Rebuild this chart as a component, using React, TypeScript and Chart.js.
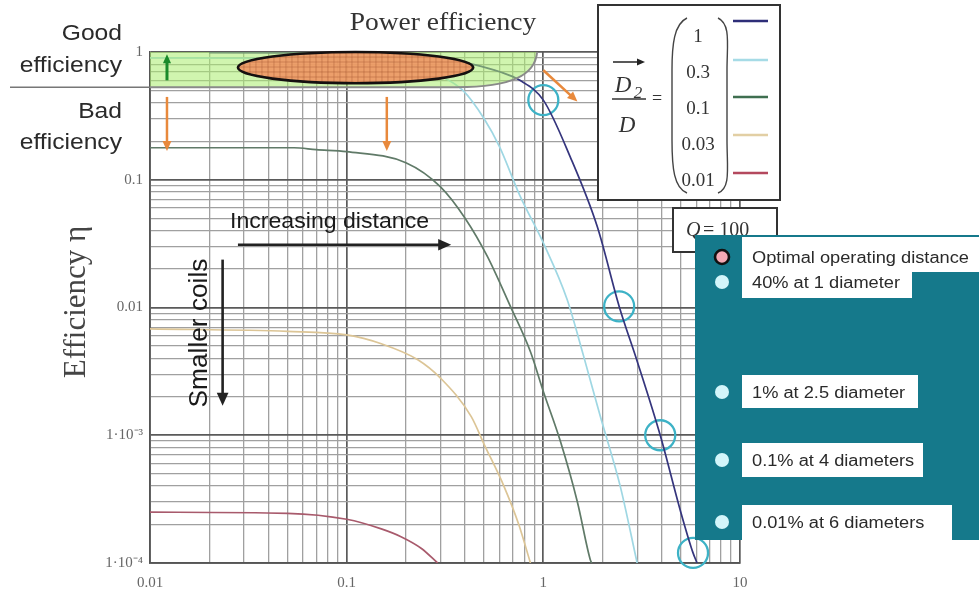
import React, { useEffect, useRef } from 'react';
import { Chart, registerables } from 'chart.js';

Chart.register(...registerables);

// ---------- data ----------
const seriesNames = ['1', '0.3', '0.1', '0.03', '0.01'];
const seriesColors = ['#35357d', '#9fd7e3', '#607a68', '#dcc596', '#a85a6c'];
const legendColors = ['#2e2e78', '#a6dbe6', '#3f6f50', '#e2cfa4', '#b4495e'];

const navyX = [0.02, 0.05, 0.1, 0.2, 0.3, 0.44, 0.6, 0.76, 1, 1.37, 1.88, 2.43, 3.0, 3.93, 5.0, 5.77, 6.05];
const navyY = [0.99, 0.985, 0.98, 0.95, 0.9, 0.8, 0.7, 0.6, 0.42, 0.151, 0.043, 0.0102, 0.0038, 0.001, 0.00025, 0.00012, 0.0001];

const cyanX = [0.01, 0.1, 0.2, 0.3, 0.39, 0.5, 0.6, 0.76, 1, 1.32, 1.6, 1.95, 2.46, 3.0];
const cyanY = [0.9, 0.88, 0.8, 0.65, 0.5, 0.3, 0.18, 0.075, 0.032, 0.0116, 0.0042, 0.0014, 0.0004, 0.0001];

const greenX = [0.01, 0.054, 0.07, 0.1, 0.2, 0.3, 0.4, 0.52, 0.68, 0.86, 1.0, 1.22, 1.49, 1.73, 1.76];
const greenY = [0.178, 0.178, 0.172, 0.166, 0.136, 0.088, 0.05, 0.025, 0.0102, 0.0045, 0.0022, 0.0009, 0.0003, 0.000107, 0.0001];

const tanX = [0.01, 0.05, 0.1, 0.15, 0.23, 0.3, 0.43, 0.5, 0.63, 0.75, 0.86];
const tanY = [0.0068, 0.0065, 0.0061, 0.0052, 0.0039, 0.0028, 0.0014, 0.00085, 0.0004, 0.0002, 0.0001];

const mauveX = [0.01, 0.05, 0.1, 0.15, 0.19, 0.24, 0.29];
const mauveY = [0.00025, 0.000245, 0.00022, 0.000185, 0.00016, 0.00013, 0.0001];

const seriesX = [navyX, cyanX, greenX, tanX, mauveX];
const seriesY = [navyY, cyanY, greenY, tanY, mauveY];

const circleX = [1, 2.43, 3.93, 5.77];
const circleY = [0.42, 0.0102, 0.001, 0.00012];

const xTickValues = [0.01, 0.1, 1, 10];
const xTickLabels = ['0.01', '0.1', '1', '10'];
const yTickValues = [1, 0.1, 0.01, 0.001, 0.0001];
const yTickLabels = ['1', '0.1', '0.01', '1·10⁻³', '1·10⁻⁴'];

const noteLabels = [
  'Optimal operating distance',
  '40% at 1 diameter',
  '1% at 2.5 diameter',
  '0.1% at 4 diameters',
  '0.01% at 6 diameters',
];

// regions / arrows in data space [x, y]
const bandRegion = [0.01, 0.93, 0.53, 1];
const ellipseRegion = [0.028, 0.44, 0.57, 1];
const orangeArrows = [
  [0.0122, 0.445, 0.0122, 0.168],
  [0.16, 0.445, 0.16, 0.168],
  [1.0, 0.72, 1.49, 0.41],
];
const greenArrow = [0.0122, 0.6, 0.0122, 0.96];
const distanceArrow = [0.028, 0.031, 0.34, 0.031];
const coilsArrow = [0.0234, 0.0237, 0.0234, 0.0017];

// ---------- helpers ----------
function logTicks(minExp: number, maxExp: number) {
  const out: any[] = [];
  for (let e = minExp; e < maxExp; e++) {
    for (let m = 1; m < 10; m++) {
      out.push({ value: +(m * Math.pow(10, e)).toPrecision(4), major: m === 1 });
    }
  }
  out.push({ value: Math.pow(10, maxExp), major: true });
  return out;
}

function labelFor(v: number, vals: number[], labels: string[]) {
  for (let i = 0; i < vals.length; i++) {
    if (Math.abs(Math.log10(v) - Math.log10(vals[i])) < 1e-6) return labels[i];
  }
  return '';
}

function txt(ctx: CanvasRenderingContext2D, s: string, x: number, y: number, font: string, color: string, align: CanvasTextAlign = 'left', sx = 1, rot = 0) {
  ctx.save();
  ctx.translate(x, y);
  if (rot) ctx.rotate(rot);
  ctx.scale(sx, 1);
  ctx.font = font;
  ctx.fillStyle = color;
  ctx.textAlign = align;
  ctx.textBaseline = 'alphabetic';
  ctx.fillText(s, 0, 0);
  ctx.restore();
}

function arrow(ctx: CanvasRenderingContext2D, x1: number, y1: number, x2: number, y2: number, color: string, w: number, head: number) {
  const a = Math.atan2(y2 - y1, x2 - x1);
  const c = Math.cos(a), s = Math.sin(a);
  ctx.save();
  ctx.strokeStyle = color;
  ctx.fillStyle = color;
  ctx.lineWidth = w;
  ctx.beginPath();
  ctx.moveTo(x1, y1);
  ctx.lineTo(x2 - c * head * 0.8, y2 - s * head * 0.8);
  ctx.stroke();
  ctx.beginPath();
  ctx.moveTo(x2, y2);
  ctx.lineTo(x2 - head * c + head * 0.45 * s, y2 - head * s - head * 0.45 * c);
  ctx.lineTo(x2 - head * c - head * 0.45 * s, y2 - head * s + head * 0.45 * c);
  ctx.closePath();
  ctx.fill();
  ctx.restore();
}

const decor = {
  id: 'decor',
  afterDraw(chart: any) {
    const ctx: CanvasRenderingContext2D = chart.ctx;
    const xs = chart.scales.x, ys = chart.scales.y;
    const px = (v: number) => xs.getPixelForValue(v);
    const py = (v: number) => ys.getPixelForValue(v);
    const sans = 'Liberation Sans, Arial, sans-serif';
    const serif = 'Liberation Serif, Times New Roman, serif';

    // green "good efficiency" band
    const L = px(bandRegion[0]), R = px(bandRegion[1]), B = py(bandRegion[2]), T = py(bandRegion[3]);
    ctx.save();
    ctx.beginPath();
    ctx.moveTo(L, T);
    ctx.lineTo(R, T);
    ctx.bezierCurveTo(R - 2, T + (B - T) * 0.65, R - 25, B, R - 80, B);
    ctx.lineTo(L, B);
    ctx.closePath();
    ctx.fillStyle = 'rgba(170,236,110,0.55)';
    ctx.fill();
    ctx.beginPath();
    ctx.moveTo(R, T);
    ctx.bezierCurveTo(R - 2, T + (B - T) * 0.65, R - 25, B, R - 80, B);
    ctx.lineTo(L, B);
    ctx.strokeStyle = '#8a8a8a';
    ctx.lineWidth = 2;
    ctx.stroke();
    ctx.restore();

    // separator line in the left margin
    ctx.save();
    ctx.strokeStyle = '#777';
    ctx.lineWidth = 1.6;
    ctx.beginPath();
    ctx.moveTo(10, B);
    ctx.lineTo(L, B);
    ctx.stroke();
    ctx.restore();

    // ellipse (optimal region)
    const eL = px(ellipseRegion[0]), eR = px(ellipseRegion[1]);
    const eB = py(ellipseRegion[2]), eT = py(ellipseRegion[3]);
    const cx = (eL + eR) / 2, cy = (eT + eB) / 2, rx = (eR - eL) / 2, ry = (eB - eT) / 2;
    ctx.save();
    ctx.beginPath();
    ctx.ellipse(cx, cy, rx, ry, 0, 0, Math.PI * 2);
    ctx.fillStyle = 'rgba(240,150,100,0.9)';
    ctx.fill();
    ctx.clip();
    ctx.strokeStyle = 'rgba(160,80,45,0.4)';
    ctx.lineWidth = 1;
    for (let x = eL; x < eR; x += 6) { ctx.beginPath(); ctx.moveTo(x, eT); ctx.lineTo(x, eB); ctx.stroke(); }
    for (let y = eT; y < eB; y += 5) { ctx.beginPath(); ctx.moveTo(eL, y); ctx.lineTo(eR, y); ctx.stroke(); }
    ctx.restore();
    ctx.save();
    ctx.beginPath();
    ctx.ellipse(cx, cy, rx, ry, 0, 0, Math.PI * 2);
    ctx.strokeStyle = '#151010';
    ctx.lineWidth = 2.6;
    ctx.stroke();
    ctx.restore();

    // arrows inside plot
    arrow(ctx, px(greenArrow[0]), py(greenArrow[1]), px(greenArrow[2]), py(greenArrow[3]), '#1a8a2a', 3, 9);
    orangeArrows.forEach((a) => arrow(ctx, px(a[0]), py(a[1]), px(a[2]), py(a[3]), '#e8893c', 2.5, 10));
    arrow(ctx, px(distanceArrow[0]), py(distanceArrow[1]), px(distanceArrow[2]), py(distanceArrow[3]), '#222', 2.6, 13);
    arrow(ctx, px(coilsArrow[0]), py(coilsArrow[1]), px(coilsArrow[2]), py(coilsArrow[3]), '#222', 2.6, 13);

    txt(ctx, 'Increasing distance', 230, 228, '22px ' + sans, '#1a1a1a', 'left', 1.05);
    txt(ctx, 'Smaller coils', 207, 333, '25px ' + sans, '#1a1a1a', 'center', 1.05, -Math.PI / 2);

    // left texts
    txt(ctx, 'Good', 122, 40, '22px ' + sans, '#2a2a2a', 'right', 1.12);
    txt(ctx, 'efficiency', 122, 72, '22px ' + sans, '#2a2a2a', 'right', 1.12);
    txt(ctx, 'Bad', 122, 118, '22px ' + sans, '#2a2a2a', 'right', 1.12);
    txt(ctx, 'efficiency', 122, 149, '22px ' + sans, '#2a2a2a', 'right', 1.12);

    // axis title and chart title
    txt(ctx, 'Efficiency η', 85, 302, '31px ' + serif, '#444', 'center', 1, -Math.PI / 2);
    txt(ctx, 'Power efficiency', 443, 30, '25px ' + serif, '#333', 'center', 1.1);

    // legend box
    ctx.save();
    ctx.fillStyle = '#fff';
    ctx.fillRect(598, 5, 182, 195);
    ctx.strokeStyle = '#333';
    ctx.lineWidth = 2;
    ctx.strokeRect(598, 5, 182, 195);
    ctx.restore();
    arrow(ctx, 613, 62, 645, 62, '#222', 1.5, 8);
    txt(ctx, 'D', 623, 92, 'italic 23px ' + serif, '#333', 'center');
    txt(ctx, '2', 638, 98, 'italic 17px ' + serif, '#333', 'center');
    ctx.save();
    ctx.strokeStyle = '#333';
    ctx.lineWidth = 1.4;
    ctx.beginPath();
    ctx.moveTo(612, 99);
    ctx.lineTo(646, 99);
    ctx.stroke();
    ctx.restore();
    txt(ctx, 'D', 627, 132, 'italic 23px ' + serif, '#333', 'center');
    txt(ctx, '=', 657, 104, '18px ' + serif, '#333', 'center');
    ctx.save();
    ctx.strokeStyle = '#444';
    ctx.lineWidth = 1.4;
    ctx.beginPath();
    ctx.moveTo(687, 18);
    ctx.bezierCurveTo(674, 24, 672, 45, 672, 70);
    ctx.lineTo(672, 140);
    ctx.bezierCurveTo(672, 168, 674, 188, 687, 193);
    ctx.moveTo(718, 18);
    ctx.bezierCurveTo(731, 24, 727, 45, 727, 70);
    ctx.lineTo(727, 140);
    ctx.bezierCurveTo(727, 168, 731, 188, 718, 193);
    ctx.stroke();
    ctx.restore();
    const valY = [42, 78, 114, 150, 186];
    const sampleY = [21, 60, 97, 135, 173];
    seriesNames.forEach((n, i) => {
      txt(ctx, n, 698, valY[i], '19px ' + serif, '#333', 'center');
      ctx.save();
      ctx.strokeStyle = legendColors[i];
      ctx.lineWidth = 2.5;
      ctx.beginPath();
      ctx.moveTo(733, sampleY[i]);
      ctx.lineTo(768, sampleY[i]);
      ctx.stroke();
      ctx.restore();
    });

    // Q box
    ctx.save();
    ctx.fillStyle = '#fff';
    ctx.fillRect(673, 208, 104, 44);
    ctx.strokeStyle = '#333';
    ctx.lineWidth = 2;
    ctx.strokeRect(673, 208, 104, 44);
    ctx.restore();
    txt(ctx, 'Q', 686, 236, 'italic 20px ' + serif, '#333', 'left');
    txt(ctx, '= 100', 703, 236, '20px ' + serif, '#333', 'left');

    // teal notes box
    ctx.save();
    ctx.fillStyle = '#15798b';
    ctx.fillRect(695, 235, 284, 305);
    ctx.fillStyle = '#fff';
    const boxes = [
      [742, 237, 237, 35],
      [742, 272, 170, 26],
      [742, 375, 176, 33],
      [742, 443, 181, 34],
      [742, 505, 210, 35],
    ];
    boxes.forEach((b) => ctx.fillRect(b[0], b[1], b[2], b[3]));
    ctx.restore();
    const noteY = [263, 288, 398, 466, 528];
    const dotY = [257, 282, 392, 460, 522];
    noteLabels.forEach((n, i) => {
      txt(ctx, n, 752, noteY[i], '16px ' + sans, '#2a2a2a', 'left', 1.14);
      ctx.save();
      ctx.beginPath();
      ctx.arc(722, dotY[i], 7, 0, Math.PI * 2);
      if (i === 0) {
        ctx.fillStyle = '#f3a9b4';
        ctx.fill();
        ctx.strokeStyle = '#111';
        ctx.lineWidth = 2.6;
        ctx.stroke();
      } else {
        ctx.fillStyle = '#d2f5fa';
        ctx.fill();
      }
      ctx.restore();
    });
  },
};

export default function App() {
  const ref = useRef<HTMLCanvasElement | null>(null);
  useEffect(() => {
    if (!ref.current) return;
    const datasets: any[] = seriesNames.map((n, i) => ({
      label: n,
      data: seriesX[i].map((x, j) => ({ x, y: seriesY[i][j] })),
      borderColor: seriesColors[i],
      borderWidth: 1.7,
      pointRadius: 0,
      fill: false,
      cubicInterpolationMode: 'monotone',
    }));
    datasets.push({
      label: 'marks',
      data: circleX.map((x, j) => ({ x, y: circleY[j] })),
      showLine: false,
      pointRadius: 15,
      pointBorderWidth: 2.3,
      pointBorderColor: '#3db2c6',
      pointBackgroundColor: 'rgba(0,0,0,0)',
      clip: false,
    });
    const gridColor = (c: any) => (c.tick && c.tick.major ? '#5a5a5a' : '#a0a0a0');
    const gridWidth = (c: any) => (c.tick && c.tick.major ? 1.7 : 1.3);
    const chart = new Chart(ref.current, {
      type: 'line',
      data: { datasets },
      options: {
        responsive: false,
        animation: false,
        events: [],
        layout: { padding: { left: 0, right: 239, top: 52, bottom: 0 } },
        plugins: { legend: { display: false }, tooltip: { enabled: false }, title: { display: false } },
        scales: {
          x: {
            type: 'logarithmic',
            min: 0.01,
            max: 10,
            afterBuildTicks: (s: any) => { s.ticks = logTicks(-2, 1); },
            afterFit: (s: any) => { s.height = 32; },
            ticks: {
              autoSkip: false,
              maxRotation: 0,
              padding: 11,
              color: '#666',
              font: { family: 'Liberation Serif', size: 15 },
              callback: (v: any) => labelFor(Number(v), xTickValues, xTickLabels),
            },
            grid: { color: gridColor, lineWidth: gridWidth, drawTicks: false },
            border: { display: true, color: '#555', width: 1.7 },
          },
          y: {
            type: 'logarithmic',
            min: 0.0001,
            max: 1,
            afterBuildTicks: (s: any) => { s.ticks = logTicks(-4, 0); },
            afterFit: (s: any) => { s.width = 150; },
            ticks: {
              autoSkip: false,
              padding: 7,
              color: '#666',
              font: { family: 'Liberation Serif', size: 15 },
              callback: (v: any) => labelFor(Number(v), yTickValues, yTickLabels),
            },
            grid: { color: gridColor, lineWidth: gridWidth, drawTicks: false },
            border: { display: true, color: '#555', width: 1.7 },
          },
        },
      } as any,
      plugins: [decor],
    });
    return () => chart.destroy();
  }, []);
  return (
    <canvas
      ref={ref}
      width={979}
      height={595}
      style={{ display: 'block', position: 'fixed', left: 0, top: 0, background: '#fff' }}
    />
  );
}
